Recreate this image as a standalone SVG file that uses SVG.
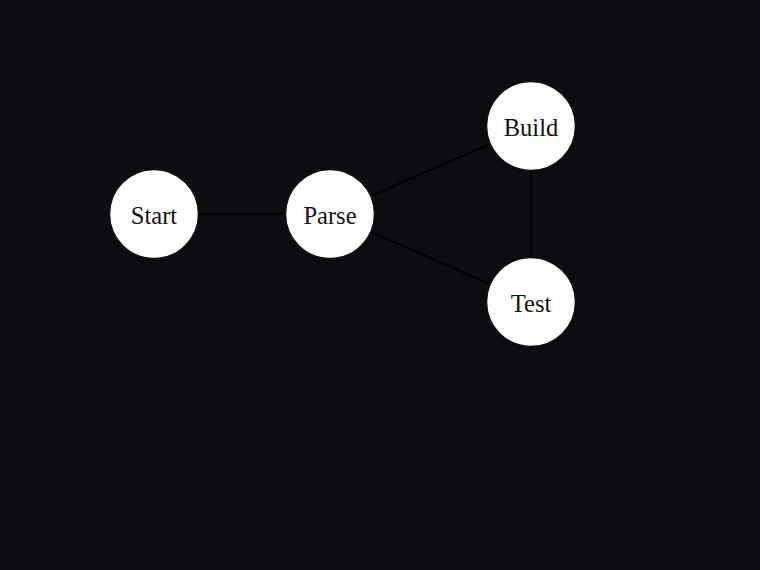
<svg xmlns="http://www.w3.org/2000/svg" width="760" height="570" viewBox="0 0 760 570">
<style>
.n circle{fill:#ffffff;stroke:#111111;stroke-width:1.5}
.n text{font-family:"Liberation Serif","Times New Roman",serif;font-size:24.5px;fill:#111111;text-anchor:middle;dominant-baseline:central}
.e line{stroke:#000000;stroke-width:2}
</style>
<rect width="760" height="570" fill="#0c0d11"/>
<g id="edges" class="e">
<line x1="154" y1="214" x2="330" y2="214"/>
<line x1="330" y1="214" x2="531" y2="126"/>
<line x1="330" y1="214" x2="531" y2="302"/>
<line x1="531" y1="126" x2="531" y2="302"/>
</g>
<g id="start" class="n"><circle cx="154" cy="214" r="44.5"/><text x="154" y="215">Start</text></g>
<g id="parse" class="n"><circle cx="330" cy="214" r="44.5"/><text x="330" y="215">Parse</text></g>
<g id="build" class="n"><circle cx="531" cy="126" r="44.5"/><text x="531" y="127">Build</text></g>
<g id="test" class="n"><circle cx="531" cy="302" r="44.5"/><text x="531" y="303">Test</text></g>
</svg>
